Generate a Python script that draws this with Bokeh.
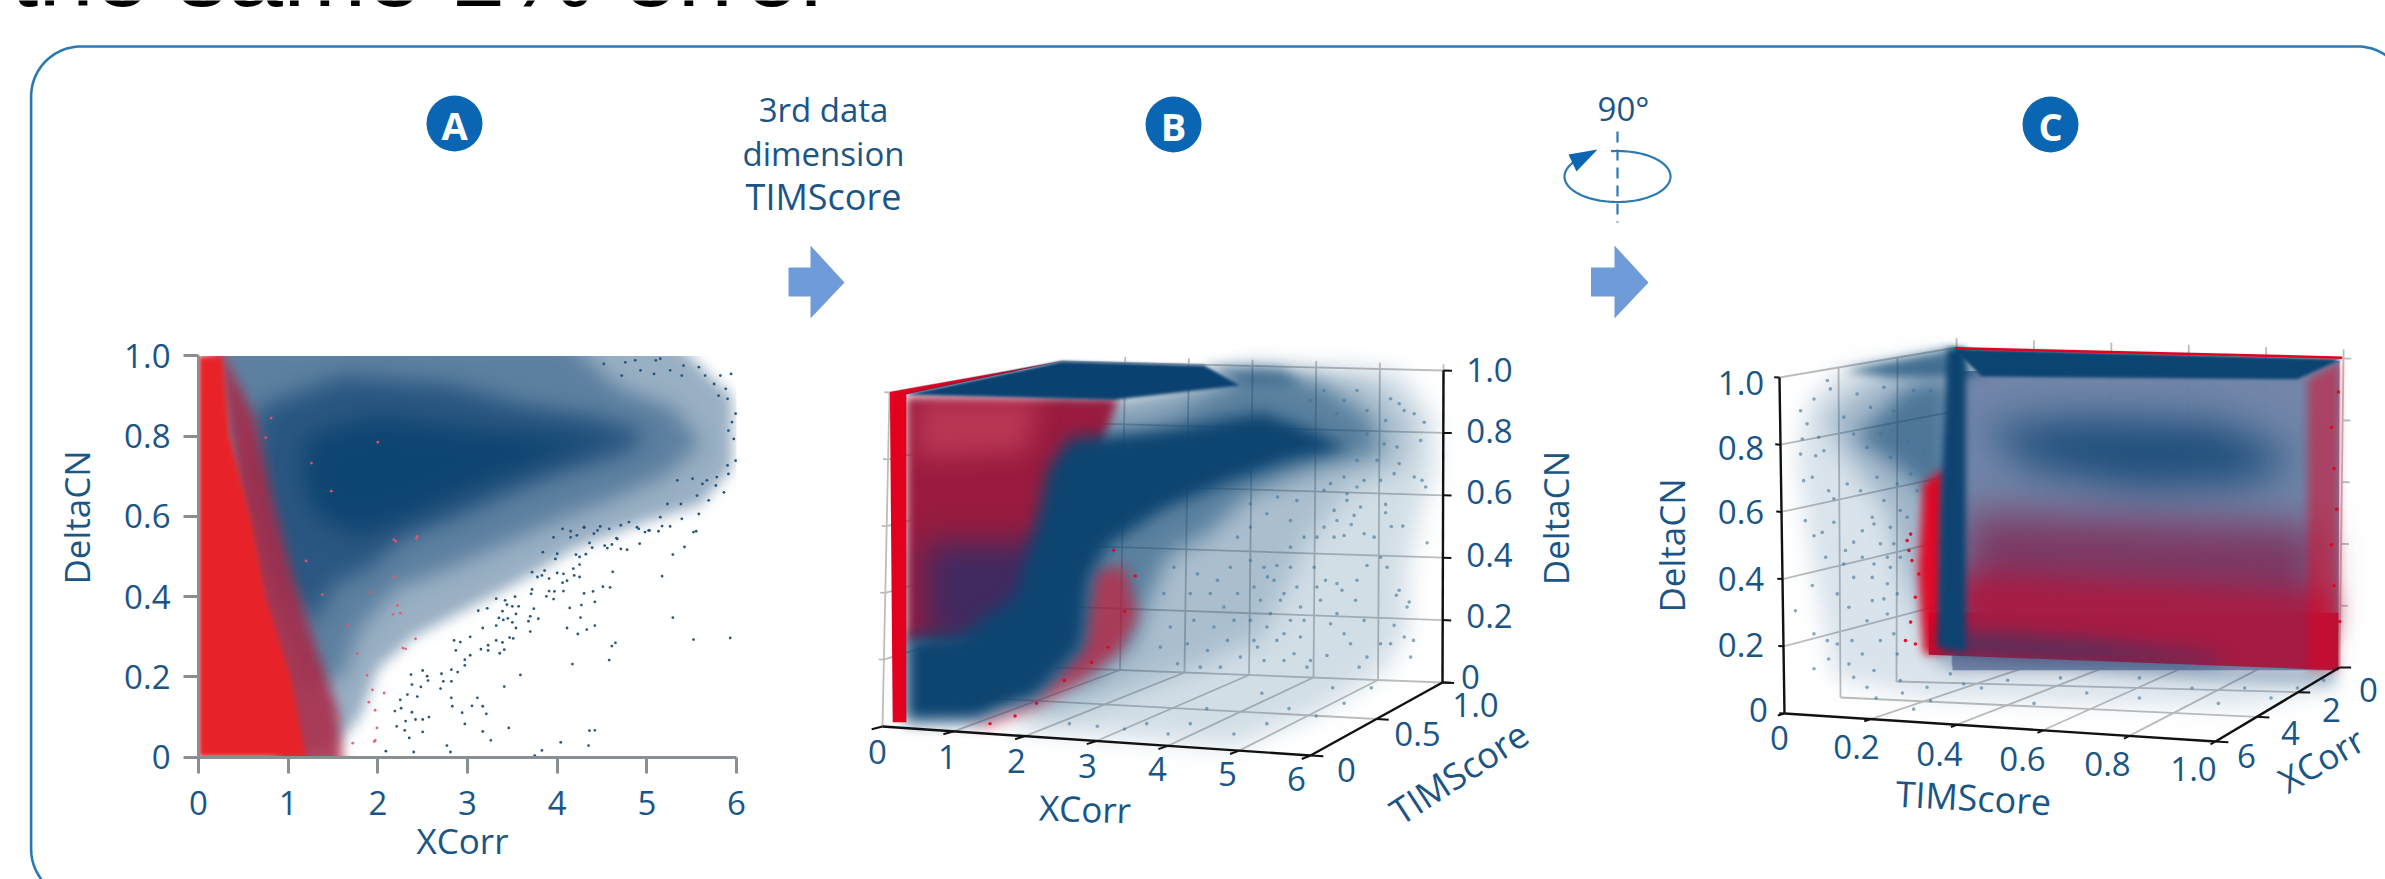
import numpy as np
from bokeh.plotting import figure
from bokeh.document import Document
from bokeh.models import Range1d, LinearAxis, FixedTicker, CustomJS
from bokeh.core.properties import value
from bokeh.embed import file_html
from bokeh.resources import INLINE

# ---------- labels ----------
TITLE = "the same 1% error"
STEP1 = ["3rd data", "dimension", "TIMScore"]
STEP2 = "90°"
XCORR_TICKS = [0, 1, 2, 3, 4, 5, 6]
DELTA_TICKS = [0, 0.2, 0.4, 0.6, 0.8, 1.0]
DELTA_LABELS = ["0", "0.2", "0.4", "0.6", "0.8", "1.0"]
TIM_TICKS_B = [0, 0.5, 1.0]
TIM_LABELS_B = ["0", "0.5", "1.0"]
TIM_TICKS_C = [0, 0.2, 0.4, 0.6, 0.8, 1.0]
XCORR_TICKS_C = [0, 2, 4, 6]

# ---------- panel A: isolated points (XCorr, DeltaCN) ----------
a_blue_x = [5.55,5.42,5.29,5.17,5.29,5.52,5.93,4.62,4.92,4.78,4.71,4.56,4.53,4.61,4.66,4.39,4.36,4.32,4.25,4.21,4.25,4.18,4.19,4.25,4.11,4.06,4.51,4.59,4.40,4.30,4.42,4.27,4.14,4.26,4.11,4.23,4.33,4.42,4.65,4.61,4.58,4.17,3.59,3.41,3.11,3.05,3.17,3.21,2.94,2.97,3.17,3.46,3.26,4.04,4.36,4.42,4.35,3.83,3.75,2.77,2.81,2.50,2.35,2.40,2.09,2.57,2.50,2.42,2.38,2.31,2.30,2.21,2.82,2.83,2.44,2.33,2.25,2.19,2.26,2.70,2.82,2.73,2.89,2.82,2.71,2.55,2.50,2.37,2.38,2.48,2.56,2.97,3.03,2.97,3.15,3.23,3.23,3.36,3.41,3.39,3.32,3.47,3.51,3.70,3.54,3.32,3.17,3.03,2.87,2.92,2.85,3.79,3.70,3.68,3.50,3.45,3.40,3.35,3.54,3.39,3.74,3.57,3.50,3.44,3.22,3.12,3.96,3.88,3.91,3.97,4.07,3.71,3.72,3.53,3.42,3.32,4.07,3.86,3.91,3.83,3.72,3.78,4.00,3.84,4.00,3.98,3.96,4.15,4.22,4.15,4.06,4.30,4.41,4.48,4.58,4.71,4.80,4.89,4.98,5.03,5.13,5.17,5.26,
            5.94,5.82,5.99,5.97,5.99,5.91,5.86,5.77,5.69,5.58,5.56,5.62,5.52,5.38,5.39,5.41,5.58,5.65,5.88,5.90,5.91,5.15,5.10,4.87,4.76,4.52,5.26,5.39,4.93,4.72,5.08,5.75,5.80,5.95,5.90,5.78,5.67,5.51,5.34,5.23,5.15,5.02,4.91,4.67,4.45,4.30]
a_blue_y = [.563,.524,.505,.451,.348,.293,.297,.462,.532,.517,.519,.521,.527,.530,.546,.522,.534,.506,.499,.505,.480,.470,.453,.449,.440,.435,.425,.423,.413,.408,.387,.379,.372,.348,.322,.307,.318,.328,.285,.277,.242,.232,.205,.176,.148,.128,.127,.108,.111,.083,.064,.073,.042,.037,.066,.067,.029,.017,.004,.029,.013,.063,.048,.013,.015,.100,.094,.094,.112,.090,.067,.077,.148,.127,.151,.156,.143,.115,.122,.171,.189,.189,.212,.218,.208,.202,.216,.206,.181,.175,.191,.229,.254,.243,.269,.266,.279,.259,.268,.286,.291,.298,.296,.313,.322,.328,.322,.300,.266,.287,.291,.345,.351,.339,.336,.346,.342,.347,.357,.364,.370,.376,.376,.380,.371,.365,.394,.401,.414,.413,.414,.407,.418,.400,.391,.395,.457,.465,.445,.453,.461,.449,.459,.511,.507,.494,.548,.548,.553,.563,.569,.573,.557,.575,.569,.578,.586,.573,.561,.565,.563,.576,.575,
            .955,.951,.856,.793,.739,.706,.660,.677,.640,.606,.652,.681,.561,.631,.594,.976,.972,.951,.918,.893,.814,.993,.989,.989,.984,.980,.964,.951,.964,.951,.955,.930,.901,.835,.727,.698,.690,.694,.690,.631,.598,.565,.569,.544,.565,.573]
a_red_x = [2.44,2.18,2.31,2.42,1.88,2.07,1.90,1.97,1.99,1.96,2.25,2.18,1.92,2.22,2.28,2.17,2.43,2.20,2.00,1.48,1.26,.81,.75,1.20,1.38,1.66,1.77,1.94,1.97,1.72,1.55]
a_red_y = [.550,.542,.270,.295,.204,.160,.137,.117,.073,.039,.359,.449,.411,.378,.272,.356,.545,.538,.785,.663,.733,.845,.796,.489,.405,.328,.258,.168,.042,.035,.098]

# panel A: outlines of the point clouds where points merge (XCorr, DeltaCN)
a_outer = ([.1,5.3,5.7,5.95,5.95,5.6,4.9,4.2,3.6,3.0,2.4,2.0,1.8,1.5,1.0,.85,.55,.35,.2],
           [1.04,1.04,.95,.9,.72,.63,.58,.52,.44,.37,.30,.22,.10,.02,.005,.2,.4,.6,.8])
a_mid = ([.2,4.1,4.7,5.3,5.6,5.2,4.6,4.0,3.4,2.8,2.2,1.8,1.6,1.2,.95,.65,.45,.3],
         [1.04,1.04,.92,.87,.78,.70,.64,.59,.53,.47,.42,.32,.20,.17,.30,.45,.60,.80])
a_dense = ([.65,1.6,2.8,3.6,4.4,5.0,4.8,4.2,3.6,2.9,2.3,1.9,1.5,1.3,.95,.75,.6],
           [.87,.95,.93,.88,.85,.81,.76,.72,.67,.60,.55,.47,.43,.33,.42,.55,.70])
a_core = ([1.2,2,3,4,4.6,4,3.2,2.4,1.8,1.3,1.15],
          [.80,.85,.82,.80,.79,.75,.68,.60,.55,.60,.70])
a_red_mix = ([.2,.62,.85,1.05,1.3,1.55,1.62,.9],
             [1.04,.85,.62,.45,.28,.12,-.03,-.03])
a_red_solid = ([0,.27,.35,.58,.75,1.03,1.2,0],
               [1,1,.8,.6,.4,.2,0,0])
a_cover_top = ([-.1,6.3,6.3,-.1], [1.14,1.14,1,1])
a_cover_bottom = ([-.1,6.3,6.3,-.1], [0,0,-.14,-.14])
a_cover_right = ([6,6.3,6.3,6], [1.14,1.14,-.14,-.14])
a_cover_left = ([-.2,0,0,-.2], [1.1,1.1,-.1,-.1])

# ---------- panel B: clouds on the front plane (XCorr, DeltaCN) ----------
b_l1 = ([4.92,7.22,7.70,7.72,7.53,7.34,7.34,6.99,6.07,4.92,2.78,1.70,2.62,2.78],
        [1.069,1.061,.924,.771,.649,.466,.282,.160,.038,-.061,-.023,0,.16,.618])
b_l2 = ([5.15,6.76,7.38,7.34,6.53,6.0,5.69,5.31,4.39,3.39,2.32,1.86,3.08,2.93],
        [1.061,1.046,.924,.786,.71,.573,.435,.267,.176,.099,.023,.053,.313,.771])
b_l3 = ([2.2,3.3,5.23,6.07,6.84,6.99,6.07,5.15,4.54,4.0,3.62,3.54,2.93,1.86,2.93,2.2],
        [.98,.98,1.061,1.038,.924,.817,.771,.695,.573,.511,.328,.252,.145,.069,.466,.8])
b_core = ([2.62,4.16,5.31,5.92,6.53,5.69,4.77,3.93,3.39,3.16,2.93,2.81,2.16,1.32,.32,.32,1.09,1.86,2.16,2.32],
          [.863,.893,.939,.893,.832,.794,.725,.649,.573,.542,.435,.237,.084,.015,.012,.267,.282,.389,.618,.771])
b_red = ([.34,3.3,3.0,2.7,2.6,2.0,1.0,.34],
         [.985,.98,.8,.6,.4,.28,.25,.25])
b_red_top = ([.5,2.2,2.0,.5],[.98,.98,.82,.8])
b_red_low = ([.6,2.6,2.6,2.0,1.0,.6],[.55,.55,.4,.28,.25,.25])
b_red_fringe = ([2.93,3.39,3.58,3.31,2.78,2.16,1.51,1.2,2.16,2.81],
                [.466,.481,.328,.221,.137,.06,0,0,.084,.237])
b_bar = ([.11,.34,.34,.15],[1.0,1.0,.012,.012])
b_sheet = ([.32,2.51,4.5,5.0,3.24],[.992,1.092,1.08,1.02,.977])
b_sheet_fade = ([4.5,5.6,5.9,5.0],[1.08,1.07,1.02,1.02])
b_sheet_edge = ([.11,2.51,.32],[1.0,1.092,.992])
b_blue_x = [7.62,7.28,7.12,7.04,7.04,6.56,6.46,6.32,6.69,6.60,6.36,6.18,6.08,6.50,6.88,6.74,7.06,6.97,7.23,7.19,7.37,7.34,6.62,6.43,6.36,6.64,6.78,6.20,6.04,6.08,6.13,6.36,6.27,6.46,6.55,6.74,7.16,7.30,7.39,7.43,7.11,6.97,6.78,6.67,6.22,5.99,7.58,7.44,7.30,7.23,7.11,7.04,7.53,7.23,7.55,7.60,7.44,7.16,7.20,7.02,6.92,6.97,6.74,6.64,6.50,6.32,5.71,5.52,5.39,5.62,5.71,5.43,5.52,5.76,5.85,5.25,
            6.84,6.46,6.07,5.38,4.92,4.31,4.0,3.7,3.39,3.01,2.62,4.54,5.31,5.69,6.3,
            5.15,5.34,5.48,5.20,5.71,5.80,5.29,5.57,5.85,5.15,5.38,5.62,5.90,5.20,5.34,5.62,5.94,4.87,4.69,4.97,4.78,4.59,4.41,4.31,4.92,4.64,4.36,4.83,4.55,4.27,5.01,4.03,3.94,4.08,3.89,4.13,4.45,4.73,5.15,5.38,5.71,5.90,4.97,5.15,5.53,5.80,6.18,5.99,6.18,6.46,6.64,6.78,6.36,6.78,6.64,6.46,6.27]
b_blue_y = [.549,.599,.598,.664,.639,.604,.571,.566,.656,.631,.616,.596,.566,.676,.566,.576,.476,.506,.407,.392,.372,.357,.377,.407,.427,.437,.481,.437,.476,.417,.377,.337,.307,.277,.247,.317,.302,.267,.207,.257,.247,.247,.207,.177,.212,.197,.910,.935,.945,.965,.980,.915,.855,.786,.736,.716,.746,.756,.836,.845,.796,.736,.736,.716,.696,.646,.536,.481,.447,.397,.317,.337,.257,.217,.267,.237,
            .115,.069,.031,.008,-.023,.008,-.023,.008,-.008,0,.008,.053,.099,.053,.115,
            .496,.476,.437,.417,.476,.417,.377,.377,.357,.317,.297,.277,.317,.257,.197,.197,.177,.476,.437,.397,.357,.397,.456,.397,.317,.297,.317,.257,.227,.247,.207,.297,.397,.476,.237,.187,.177,.177,.596,.636,.616,.566,.566,.666,.686,.676,.706,.975,1.005,.975,1.005,.945,.935,.875,.796,.746,.726]
b_red_x = [3.24,3.54,3.39,3.16,1.51,1.86,2.16,2.55,2.93]
b_red_y = [.527,.45,.344,.237,.008,.031,.069,.137,.191]

# ---------- panel C: clouds on the front plane (TIMScore, DeltaCN) ----------
c_l1 = ([.128,.384,.39,1.287,1.274,1.067,.701,.335,.116,.067,.03,.055],
        [1.026,1.079,.129,.129,.076,.023,.03,.046,.106,.426,.76,.927])
c_l2 = ([.213,.39,.39,.335,.274,.238,.14,.091],[1.003,1.033,.198,.228,.426,.608,.775,.881])
c_l2b = ([.335,1.28,1.274,1.006,.64,.396],[.175,.137,.084,.099,.129,.122])
c_l3 = ([.287,.39,.39,.335,.238,.165],[.973,1.003,.426,.653,.76,.821])
c_wall = ([.39,1.287,1.284,.39],[1.018,1.049,.129,.129])
c_blob = ([.457,.701,1.006,1.189,1.067,.823,.579],[.851,.881,.866,.76,.684,.669,.729])
c_red_upper = ([.42,1.24,1.24,.42],[.60,.56,.22,.22])
c_red_lower = ([.40,1.26,1.26,.40],[.42,.36,.24,.24])
c_red_base = ([.335,1.284,1.284,.335],[.3,.3,.129,.175])
c_red_edge = ([1.213,1.287,1.284,1.213],[.995,1.049,.129,.129])
c_red_left = ([.323,.372,.372,.323,.311],[.684,.729,.182,.175,.426])
c_band = ([.378,.421,.421,.354,.36],[1.087,1.087,.182,.198,.578])
c_floor_band = ([.36,.701,1.006,1.006,.36],[.243,.213,.167,.144,.182])
c_sheet = ([.39,1.293,1.189,.457],[1.087,1.056,.995,1.003])
c_sheet_tip = ([.39,.457,.25,.14],[1.087,1.003,1.0,1.02])
c_sheet_edge = ([.396,1.293],[1.087,1.059])
c_blue_x = [.038,.069,.100,.107,.053,.080,.042,.092,.038,.073,.065,.045,.103,.115,.049,.115,.069,.088,.096,.142,.161,.181,.208,.246,.223,.181,.204,.161,.138,.065,.026,.069,.100,.123,.069,.157,.192,.239,.204,.231,.150,.123,.103,.181,.223,.254,.161,.208,.262,.150,.192,.269,.331,.385,.300,.339,.416,.246,.208,.269,.239,.262,
            .579,.701,.823,.457,.945,1.067,1.128,1.189,1.006,.274,.213,1.25,.823,.64,.518,
            .138,.169,.2,.231,.254,.161,.192,.223,.246,.285,.316,.339,.3,.323,.293,.262,.215,.177,.146,.231,.269,.204,.308,.285,.254,.239]
c_blue_y = [.901,.936,.991,.966,.862,.822,.817,.782,.772,.767,.703,.693,.663,.639,.574,.569,.529,.539,.465,.485,.510,.544,.564,.554,.505,.465,.405,.405,.445,.381,.306,.237,.217,.207,.133,.217,.276,.296,.336,.341,.316,.356,.162,.177,.217,.237,.108,.128,.177,.147,.078,.098,.078,.118,.013,.038,.088,.435,.445,.465,.386,.356,
            .03,.061,.046,.076,.076,.076,.046,.076,.03,.061,.046,.099,.106,.106,.099,
            .882,.951,.911,.971,.901,.832,.792,.832,.762,.812,.872,.961,.961,.782,.713,.683,.703,.663,.683,.634,.604,.584,.663,.584,.505,.465]
c_red_x = [.293,.289,.312,.304,.293,.281,.304,.296,.285,1.284,1.268,1.274,1.28,1.268,1.274,1.287]
c_red_y = [.534,.485,.415,.346,.272,.217,.207,.455,.515,.957,.851,.729,.608,.502,.38,.274]

# ---------- styling ----------
NAVY = "#0b4170"
RED = "#e52229"
RED2 = "#e2001f"
INK = "#1a5585"
BADGE = "#0a66b2"
ARROW = "#6f9bd8"
FRAME = "#2a78b4"
GRID = "#bdbdbd"
HAZE = "#3f7398"
FONT = "Open Sans"
W, H = 2385, 879

p = figure(width=W, height=H, x_range=Range1d(0, W), y_range=Range1d(H, 0),
           toolbar_location=None, output_backend="svg", min_border=0,
           x_axis_location=None, y_axis_location=None, outline_line_color=None,
           margin=(0, 0, 0, 0))
p.grid.visible = False


def scale_range(v0, p0, v1, p1, pa, pb):
    k = (v1 - v0) / (p1 - p0)
    return Range1d(start=v0 + (pa - p0) * k, end=v0 + (pb - p0) * k)


p.extra_x_ranges = {
    "ax": scale_range(0, 198, 6, 736, 0, W),
    "bx": scale_range(0, 881.5, 6, 1310.7, 0, W),
    "cx": scale_range(0, 1783.7, 1, 2215.3, 0, W),
}
p.extra_y_ranges = {
    "ay": scale_range(0, 756.7, 1, 355.4, H, 0),
    "by": scale_range(0, 725.8, 1, 391.6, H, 0),
    "cy": scale_range(0, 713, 1, 377, H, 0),
}

blur_by_colour = {}


def poly(panel, shape, color, alpha=1.0, blur=0):
    """A cloud outline as a flat fill; soft clouds get an imperceptibly unique colour the page blurs by."""
    rgb = [int(color[i:i + 2], 16) for i in (1, 3, 5)]
    if blur:
        n = len(blur_by_colour) + 1
        rgb = [min(rgb[0] + n % 4, 255), min(rgb[1] + (n // 4) % 4, 255), min(rgb[2] + (n // 16) % 4, 255)]
        blur_by_colour[",".join(map(str, rgb))] = blur
    p.patch(shape[0], shape[1], x_range_name=panel + "x", y_range_name=panel + "y",
            fill_color="#%02x%02x%02x" % tuple(rgb), fill_alpha=alpha, line_color=None)


def dots(panel, xs, ys, color, size, alpha=1.0):
    p.scatter(xs, ys, x_range_name=panel + "x", y_range_name=panel + "y", size=size,
              marker="circle", fill_color=color, fill_alpha=alpha, line_color=None)


def label(x, y, s, size=33, color=INK, align="center", angle=0.0, style="normal", font=FONT, baseline="middle"):
    p.text([x], [y], text=[s], text_font=value(font), text_font_size=f"{size}px",
           text_color=color, text_align=align, text_baseline=baseline, angle=angle,
           text_font_style=style)


# ---------- frame, title, badges, arrows ----------
label(10, -30, TITLE, size=100, color="#000000", align="left", font="Liberation Sans", baseline="alphabetic")
t = np.linspace(0, np.pi / 2, 30)
r = 50
L, T, Rt, Bt = 30.6, 46, 2407, 898.5
fx = np.concatenate([[L + r - r * np.sin(a) for a in t], [L + r - r * np.cos(a) for a in t], [Rt - r + r * np.sin(a) for a in t]])
fy = np.concatenate([[Bt - r + r * np.cos(a) for a in t], [T + r - r * np.sin(a) for a in t], [T + r - r * np.cos(a) for a in t]])
p.line(fx, fy, line_color=FRAME, line_width=2.6)

for cx, cy, s in [(454, 123, "A"), (1173, 124, "B"), (2050, 124, "C")]:
    p.circle([cx], [cy], radius=28, fill_color=BADGE, line_color=None)
    label(cx, cy + 1, s, size=38, color="#ffffff", style="bold")

for i, (s, fs) in enumerate(zip(STEP1, [33, 33, 36])):
    label(823, 109 + 43.5 * i, s, size=fs)
label(1623, 108, STEP2)

for x0, xm, x1 in [(788, 810, 844), (1590.5, 1614, 1648)]:
    p.patch([x0, xm, xm, x1, xm, xm, x0], [267, 267, 245, 282, 318, 296, 296],
            fill_color=ARROW, line_color=None)

# rotation icon
p.line([1617, 1617], [131, 222], line_color=FRAME, line_width=2.2, line_dash="11 7")
a = np.radians(np.linspace(146, 457, 120))
p.line(1617 + 53 * np.cos(a), 176 - 25.5 * np.sin(a), line_color=FRAME, line_width=2.2)
p.patch([1597, 1568, 1576], [149, 154, 171], fill_color=BADGE, line_color=None)

# ---------- panel A ----------
poly("a", a_outer, NAVY, 0.42, blur=7)
poly("a", a_mid, NAVY, 0.42, blur=10)
poly("a", a_dense, NAVY, 0.65, blur=11)
poly("a", a_core, NAVY, 0.9, blur=12)
poly("a", a_red_mix, "#a82645", 0.85, blur=6)
poly("a", a_red_solid, RED, 1.0, blur=2.5)
for cov in (a_cover_top, a_cover_bottom, a_cover_right, a_cover_left):
    poly("a", cov, "#ffffff")
dots("a", a_blue_x, a_blue_y, "#1d4f78", 2.8, 0.95)
dots("a", a_red_x, a_red_y, "#e8566a", 2.8, 0.9)

ax = LinearAxis(x_range_name="ax", y_range_name="ay", fixed_location=0, ticker=FixedTicker(ticks=XCORR_TICKS),
                bounds=(0, 6), major_label_overrides={v: str(v) for v in XCORR_TICKS}, major_label_standoff=18,
                axis_line_color="#8a8f94", axis_line_width=3, major_tick_line_color="#8a8f94", major_tick_line_width=3,
                major_tick_in=0, major_tick_out=16, minor_tick_out=0, minor_tick_in=0, major_label_text_font=FONT,
                major_label_text_font_size="33px", major_label_text_color=INK)
p.add_layout(ax, "below")
ay = LinearAxis(x_range_name="ax", y_range_name="ay", fixed_location=0, ticker=FixedTicker(ticks=DELTA_TICKS),
                bounds=(0, 1), major_label_overrides=dict(zip(DELTA_TICKS, DELTA_LABELS)), major_label_standoff=13,
                axis_line_color="#8a8f94", axis_line_width=3, major_tick_line_color="#8a8f94", major_tick_line_width=3,
                major_tick_in=0, major_tick_out=15, minor_tick_out=0, minor_tick_in=0, major_label_text_font=FONT,
                major_label_text_font_size="33px", major_label_text_color=INK)
p.add_layout(ay, "left")
label(462, 840, "XCorr", size=35)
label(75.5, 517, "DeltaCN", size=35, angle=np.pi / 2)


# ---------- 3-D boxes ----------
def box(c):
    def f(u, v, z):
        out = 0
        for i, a_ in ((0, 1 - u), (1, u)):
            for j, b_ in ((0, 1 - v), (1, v)):
                for k, c_ in ((0, 1 - z), (1, z)):
                    out = out + a_ * b_ * c_ * np.array(c[(i, j, k)], dtype=float)
        return out
    return f


def seg(a0, a1, color=GRID, width=1.8):
    p.line([a0[0], a1[0]], [a0[1], a1[1]], line_color=color, line_width=width)


B = box({(0, 0, 0): (882, 726), (1, 0, 0): (1310, 755), (0, 1, 0): (1055, 667), (1, 1, 0): (1442, 682),
         (0, 0, 1): (889, 392), (1, 0, 1): (1314, 417), (0, 1, 1): (1061, 361), (1, 1, 1): (1443, 370)})
# u = XCorr/6, v = TIMScore, z = DeltaCN
for xc in XCORR_TICKS[1:]:
    seg(B(xc / 6, 1, 0), B(xc / 6, 1, 1.02))
    if xc < 6:
        seg(B(xc / 6, 0, 0), B(xc / 6, 1, 0))
for z in DELTA_TICKS[1:]:
    seg(B(0, 1, z), B(1, 1, z))
    seg(B(0, 0, z), B(0, 1, z))
    seg(B(0, 0, z), B(-0.012, 0, z))
seg(B(0, 0, 0), B(0, 0, 1))
seg(B(0, 0.5, 0), B(1, 0.5, 0))
seg(B(0, 1, 0), B(1, 1, 0))

poly("b", b_l1, HAZE, 0.24, blur=12)
poly("b", b_l2, NAVY, 0.2, blur=13)
poly("b", b_l3, NAVY, 0.5, blur=11)
poly("b", b_red_fringe, RED2, 0.55, blur=7)
poly("b", b_red, "#96193f", 1.0, blur=5)
poly("b", b_red_top, "#e85a70", 0.42, blur=12)
poly("b", b_red_low, "#2f2a66", 0.85, blur=16)
poly("b", b_core, NAVY, 1.0, blur=8)
poly("b", b_bar, RED2)
poly("b", b_sheet_edge, RED2)
poly("b", b_sheet_fade, NAVY, 0.5, blur=6)
poly("b", b_sheet, NAVY, 1.0, blur=1.5)
dots("b", b_blue_x, b_blue_y, HAZE, 3.6, 0.6)
dots("b", b_red_x, b_red_y, RED2, 3.4, 0.9)

seg(B(0, 0, 0), B(1, 0, 0), "#111111", 2.4)
seg(B(1, 0, 0), B(1, 1, 0), "#111111", 2.4)
seg(B(1, 1, 0), B(1, 1, 1.0), "#111111", 2.4)
for xc in XCORR_TICKS:
    seg(B(xc / 6, 0, 0), B(xc / 6 - 0.005, -0.05, 0), "#111111", 2)
for tv in TIM_TICKS_B:
    seg(B(1, tv, 0), B(1.03, tv, 0), "#111111", 2)
for z in DELTA_TICKS:
    seg(B(1, 1, z), B(1.022, 1, z), "#111111", 2)

for v, xp, yp in zip(XCORR_TICKS, [877, 947, 1016, 1087, 1157, 1227, 1296], [751, 756, 760, 765, 768, 773, 778]):
    label(xp, yp, str(v))
for s, xp, yp in zip(DELTA_LABELS, [1470, 1489, 1489, 1489, 1489, 1489], [676, 615, 554, 491, 430, 369]):
    label(xp, yp, s)
for s, xp, yp in zip(TIM_LABELS_B, [1346, 1417, 1475], [769, 733, 704]):
    label(xp, yp, s)
label(1084.5, 808, "XCorr", size=35, angle=-0.03)
label(1458.6, 772, "TIMScore", size=36, angle=np.radians(33))
label(1554.6, 517.6, "DeltaCN", size=35, angle=np.pi / 2)

C = box({(0, 0, 0): (1784, 713), (1, 0, 0): (2215, 741), (0, 1, 0): (1952, 665), (1, 1, 0): (2339, 667),
         (0, 0, 1): (1779, 377), (1, 0, 1): (2220, 408), (0, 1, 1): (1956, 347), (1, 1, 1): (2343, 358)})
# u = TIMScore, v = 1 - XCorr/6 (v=0 front, v=1 back), z = DeltaCN
for tv in TIM_TICKS_C[1:]:
    seg(C(tv, 1, 0), C(tv, 1, 1.03))
    seg(C(tv, 0, 0), C(tv, 1, 0))
for z in DELTA_TICKS[1:]:
    seg(C(0, 0, z), C(0, 1, z))
    seg(C(1, 1, z), C(1.02, 1, z))
for xc in XCORR_TICKS_C[1:3]:
    v = 1 - xc / 6
    seg(C(0, v, 0), C(0, v, 1))
    seg(C(0, v, 0), C(1, v, 0))
seg(C(0, 1, 0), C(0, 1, 1.03))
seg(C(0, 1, 0), C(1, 1, 0))

poly("c", c_l1, HAZE, 0.2, blur=11)
poly("c", c_l2, NAVY, 0.28, blur=12)
poly("c", c_l2b, NAVY, 0.3, blur=7)
poly("c", c_l3, NAVY, 0.55, blur=10)
poly("c", c_wall, "#6d82a6", 0.97)
poly("c", c_blob, NAVY, 0.82, blur=20)
poly("c", c_red_upper, "#7d2452", 0.8, blur=20)
poly("c", c_red_lower, "#a51b43", 1.0, blur=14)
poly("c", c_red_base, "#a51b43")
poly("c", c_red_edge, RED2, 0.5, blur=4)
poly("c", c_red_left, RED2, 0.95, blur=4)
poly("c", c_floor_band, NAVY, 0.62, blur=10)
poly("c", c_band, NAVY, 1.0, blur=3)
poly("c", c_sheet_tip, NAVY, 0.7, blur=5)
poly("c", c_sheet, NAVY, 1.0, blur=1.5)
p.line(c_sheet_edge[0], c_sheet_edge[1], x_range_name="cx", y_range_name="cy", line_color=RED2, line_width=2.5)
dots("c", c_blue_x, c_blue_y, HAZE, 3.6, 0.6)
dots("c", c_red_x, c_red_y, RED2, 3.6, 0.9)

seg(C(0, 0, 0), C(1, 0, 0), "#111111", 2.4)
seg(C(1, 0, 0), C(1, 1, 0), "#111111", 2.4)
seg(C(0, 0, 0), C(0, 0, 1), "#111111", 2.4)
for tv in TIM_TICKS_C:
    seg(C(tv, 0, 0), C(tv, -0.04, 0), "#111111", 2)
for xc in XCORR_TICKS_C:
    v = 1 - xc / 6
    seg(C(1, v, 0), C(1.03, v, 0), "#111111", 2)
for z in DELTA_TICKS:
    seg(C(0, 0, z), C(-0.012, 0, z), "#111111", 2)

for s, xp, yp in zip(DELTA_LABELS, [1758, 1740.5, 1740.5, 1740.5, 1740.5, 1740.5], [709.5, 644, 578, 511.5, 447, 382]):
    label(xp, yp, s)
for s, xp, yp in zip(DELTA_LABELS, [1779, 1856, 1939, 2022, 2107, 2193], [737.5, 746, 753, 758, 763, 768]):
    label(xp, yp, s)
for v, xp, yp in zip(XCORR_TICKS_C, [2368, 2331, 2290, 2246], [689, 709, 732, 755]):
    label(xp, yp, str(v))
label(1670.5, 545, "DeltaCN", size=35, angle=np.pi / 2)
label(1973, 797, "TIMScore", size=36, angle=-0.055)
label(2320.5, 759, "XCorr", size=35, angle=np.radians(30))

# soft edges for the merged clouds: blur the outlines marked above once the page has drawn them
soften = CustomJS(args=dict(blur=blur_by_colour), code="""
    function walk(root) {
        root.querySelectorAll('*').forEach((el) => {
            if (el.shadowRoot) walk(el.shadowRoot)
            if (el.tagName.toLowerCase() == 'path') {
                const m = getComputedStyle(el).fill.match(/(\\d+)\\D+(\\d+)\\D+(\\d+)/)
                if (m) {
                    const b = blur[m[1] + ',' + m[2] + ',' + m[3]] ?? blur.get?.(m[1] + ',' + m[2] + ',' + m[3])
                    if (b) el.style.filter = 'blur(' + b + 'px)'
                }
            }
        })
    }
    let n = 0
    const timer = setInterval(() => { walk(document); if (++n > 20) clearInterval(timer) }, 100)
""")
doc = Document()
doc.add_root(p)
doc.js_on_event("document_ready", soften)
p.js_on_change("inner_width", soften)

open("out.html", "w").write(file_html(p, INLINE))
